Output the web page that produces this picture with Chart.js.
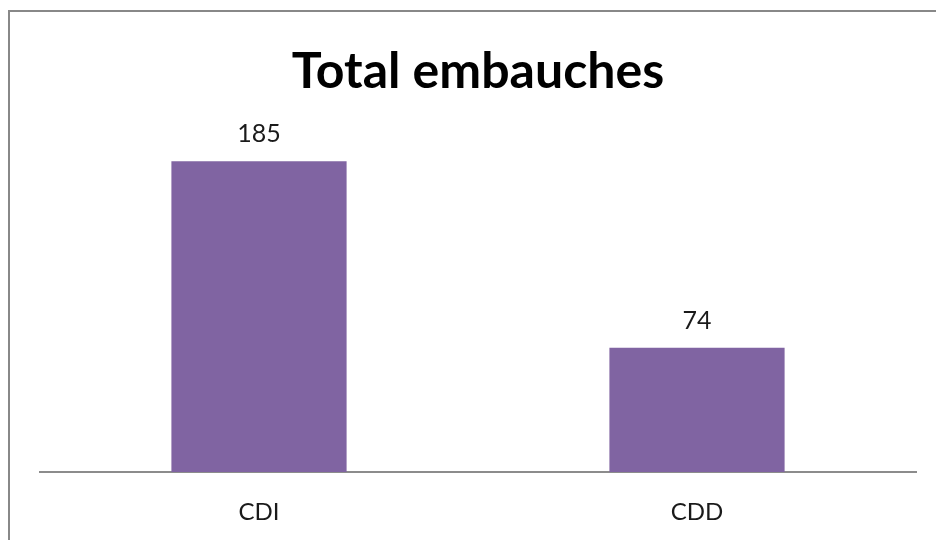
<!DOCTYPE html>
<html>
<head>
<meta charset="utf-8">
<script src="https://cdn.jsdelivr.net/npm/chart.js@4"></script>
<style>
  html, body { margin: 0; padding: 0; background: #fff; }
  #wrap { position: relative; width: 936px; height: 540px; overflow: hidden; }
  #frame {
    position: absolute; left: 8px; top: 10px; width: 1000px; height: 600px;
    border-top: 2px solid #888; border-left: 2px solid #888;
  }
  canvas { position: absolute; left: 0; top: 0; }
</style>
</head>
<body>
<div id="wrap">
  <div id="frame"></div>
  <canvas id="chart" width="936" height="540"></canvas>
</div>
<script>
const categories = ['CDI', 'CDD'];
const hires = [185, 74];
const chartTitle = 'Total embauches';

const FONT = 'Lato, "Open Sans", sans-serif';

// value labels above each bar
const valueLabels = {
    id: 'valueLabels',
    afterDatasetsDraw(chart) {
        const ctx = chart.ctx;
        const meta = chart.getDatasetMeta(0);
        ctx.save();
        ctx.font = '25px ' + FONT;
        ctx.fillStyle = '#1a1a1a';
        ctx.textAlign = 'center';
        ctx.textBaseline = 'alphabetic';
        meta.data.forEach((bar, i) => {
            ctx.fillText(hires[i], bar.x, bar.y - 19);
        });
        ctx.restore();
    }
};

new Chart(document.getElementById('chart').getContext('2d'), {
    type: 'bar',
    data: {
        labels: categories,
        datasets: [{
            data: hires,
            backgroundColor: '#8064A2',
            borderWidth: 0,
            categoryPercentage: 1,
            barPercentage: 0.4
        }]
    },
    options: {
        responsive: false,
        animation: false,
        layout: {
            padding: { left: 40, right: 20, top: 0, bottom: 0 }
        },
        scales: {
            x: {
                grid: { display: false, drawTicks: false },
                border: { display: true, color: '#8c8c8c', width: 2 },
                ticks: {
                    color: '#1a1a1a',
                    padding: 26,
                    font: { family: FONT, size: 24 }
                },
                afterFit(scale) { scale.height = 68; }
            },
            y: {
                display: false,
                min: 0,
                max: 200
            }
        },
        plugins: {
            legend: { display: false },
            tooltip: { enabled: false },
            title: {
                display: true,
                text: chartTitle,
                color: '#000',
                padding: { top: 42, bottom: 34 },
                font: { family: FONT, size: 50, weight: 'bold', lineHeight: 1.2 }
            }
        }
    },
    plugins: [valueLabels]
});
</script>
</body>
</html>
